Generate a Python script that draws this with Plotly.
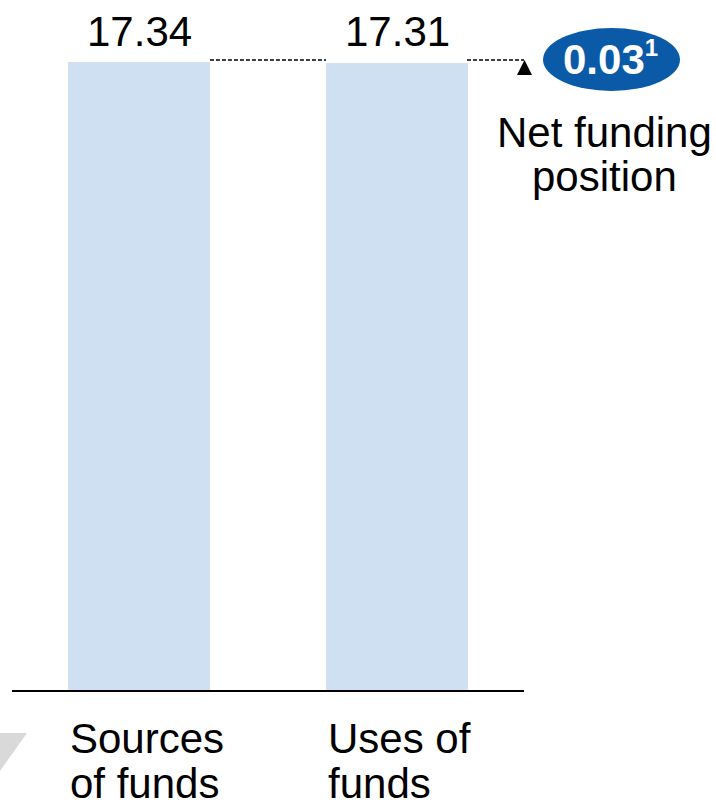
import plotly.graph_objects as go

categories = ["Sources of funds", "Uses of funds"]
cat_lines = [["Sources", "of funds"], ["Uses of", "funds"]]
values = [17.34, 17.31]
value_labels = ["17.34", "17.31"]
net_value_label = "0.03"
net_footnote = "1"
net_caption = ["Net funding", "position"]

BAR = "#cfe0f2"
FONT = "Liberation Sans, Arial, sans-serif"
FS = 42

W, H = 716, 807
L, R, T, B = 12, 192, 20, 116
pw, ph = W - L - R, H - T - B
px_x = lambda px: (px - L) / pw
px_y = lambda py: (H - B - py) / ph

xs = list(range(len(values)))
bw = 0.55

fig = go.Figure(go.Bar(x=xs, y=values, width=bw, marker=dict(color=BAR, line=dict(width=0)),
                       hoverinfo="skip"))

ann = []
for i, (v, lab) in enumerate(zip(values, value_labels)):
    ann.append(dict(x=xs[i], xref="x", y=px_y(31), yref="paper", text=lab, showarrow=False,
                    xanchor="center", yanchor="middle", font=dict(size=FS, color="#000", family=FONT)))
    for j, line in enumerate(cat_lines[i]):
        ann.append(dict(x=xs[i] - bw / 2, xref="x", y=px_y(738 + 45 * j), yref="paper", text=line,
                        showarrow=False, xanchor="left", yanchor="middle",
                        font=dict(size=FS, color="#000", family=FONT)))
for j, line in enumerate(net_caption):
    ann.append(dict(x=px_x(604), xref="paper", y=px_y(132 + 45 * j), yref="paper", text=line,
                    showarrow=False, xanchor="center", yanchor="middle",
                    font=dict(size=FS, color="#000", family=FONT)))
ann.append(dict(x=px_x(610), xref="paper", y=px_y(59), yref="paper",
                text="<b>" + net_value_label + "<sup><span style='font-size:24px'>" + net_footnote + "</span></sup></b>",
                showarrow=False, xanchor="center", yanchor="middle",
                font=dict(size=FS, color="#fff", family=FONT)))

dash = dict(color="#000", width=1.3, dash="4px,2px")
shapes = [
    # baseline
    dict(type="line", xref="paper", yref="paper", x0=0, x1=1, y0=0, y1=0, line=dict(color="#000", width=2)),
    # dotted connectors
    dict(type="line", xref="x", yref="paper", x0=xs[0] + bw / 2, x1=xs[1] - bw / 2, y0=px_y(60), y1=px_y(60),
         line=dash),
    dict(type="line", xref="paper", yref="paper", x0=px_x(467), x1=px_x(524), y0=px_y(60), y1=px_y(60),
         line=dash),
    # triangle
    dict(type="path", xref="paper", yref="paper",
         path=f"M {px_x(517)} {px_y(75)} L {px_x(532)} {px_y(75)} L {px_x(524.5)} {px_y(60)} Z",
         fillcolor="#000", line=dict(width=0)),
    # ellipse
    dict(type="circle", xref="paper", yref="paper", x0=px_x(543), x1=px_x(680), y0=px_y(91), y1=px_y(28),
         fillcolor="#0a5aa8", line=dict(width=0)),
    # gray arrow fragment
    dict(type="path", xref="paper", yref="paper",
         path=f"M {px_x(-5)} {px_y(733)} L {px_x(27)} {px_y(733)} L {px_x(-5)} {px_y(778)} Z",
         fillcolor="#d9d9d9", line=dict(width=0)),
]

fig.update_layout(
    width=W, height=H, margin=dict(l=L, r=R, t=T, b=B),
    paper_bgcolor="#fff", plot_bgcolor="#fff", showlegend=False,
    xaxis=dict(range=[(L - 139) / 258, (W - R - 139) / 258], visible=False, fixedrange=True),
    yaxis=dict(range=[0, 17.34 * ph / (H - B - 62)], visible=False, fixedrange=True),
    annotations=ann, shapes=shapes,
)

fig.write_html("out.html", config={"displayModeBar": False})
